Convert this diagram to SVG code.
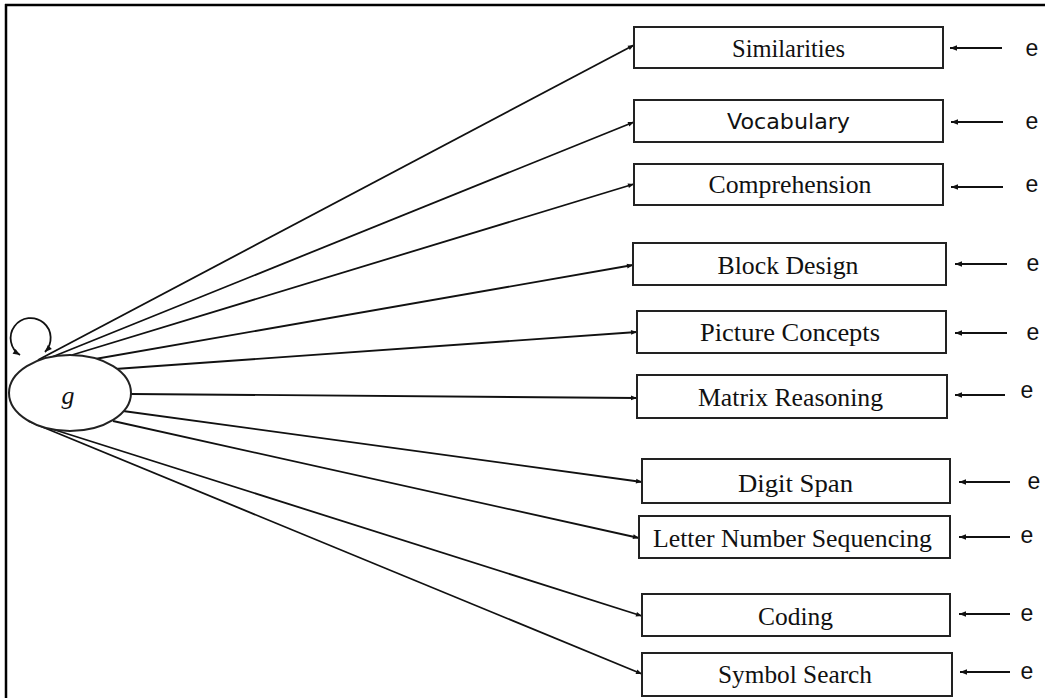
<svg xmlns="http://www.w3.org/2000/svg" width="1045" height="698" viewBox="0 0 1045 698">
<style>
.box{fill:#fff;stroke:#222;stroke-width:2}
.lbl{font-family:"Liberation Serif","Times New Roman",serif;font-size:25px;fill:#111;text-anchor:middle}
.sans{font-family:"DejaVu Sans","Liberation Sans",sans-serif;font-size:21px;fill:#111;text-anchor:middle}
.e{font-family:"Liberation Sans",Arial,sans-serif;font-size:23px;fill:#111;text-anchor:middle}
.conn line,.conn path{stroke:#111;stroke-width:1.8;fill:none}
</style>
<defs>
<marker id="ah" viewBox="0 0 10 10" refX="10" refY="5" markerWidth="8" markerHeight="6" markerUnits="userSpaceOnUse" orient="auto">
<path d="M0,1 L10,5 L0,9 Z" fill="#111"/>
</marker>
<marker id="ahs" viewBox="0 0 10 10" refX="10" refY="5" markerWidth="9" markerHeight="7" markerUnits="userSpaceOnUse" orient="auto">
<path d="M0,1 L10,5 L0,9 Z" fill="#111"/>
</marker>
<marker id="ahb" viewBox="0 0 10 10" refX="10" refY="5" markerWidth="9" markerHeight="7" markerUnits="userSpaceOnUse" orient="auto-start-reverse">
<path d="M0,1 L10,5 L0,9 Z" fill="#111"/>
</marker>
</defs>
<rect width="1045" height="698" fill="#fff"/>
<g id="frame">
<line x1="5" y1="5" x2="1045" y2="5" stroke="#000" stroke-width="2.5"/>
<line x1="6" y1="4" x2="6" y2="698" stroke="#000" stroke-width="2.5"/>
</g>
<g class="conn" id="connectors">
<path d="M 20 355 A 20 20 0 1 1 45 352" marker-start="url(#ahb)" marker-end="url(#ahb)"/>
<line x1="38" y1="360" x2="634" y2="45" marker-end="url(#ah)"/>
<line x1="52" y1="357" x2="634" y2="122" marker-end="url(#ah)"/>
<line x1="72" y1="355" x2="634" y2="184" marker-end="url(#ah)"/>
<line x1="95" y1="359" x2="633" y2="265" marker-end="url(#ah)"/>
<line x1="115" y1="369" x2="637" y2="332" marker-end="url(#ah)"/>
<line x1="131" y1="394" x2="637" y2="398" marker-end="url(#ah)"/>
<line x1="123" y1="411" x2="642" y2="482" marker-end="url(#ah)"/>
<line x1="113" y1="421" x2="639" y2="538" marker-end="url(#ah)"/>
<line x1="52" y1="429" x2="642" y2="616" marker-end="url(#ah)"/>
<line x1="28" y1="421" x2="642" y2="674" marker-end="url(#ah)"/>
<line x1="1002" y1="48" x2="950" y2="48" marker-end="url(#ahs)"/>
<line x1="1003" y1="122" x2="951" y2="122" marker-end="url(#ahs)"/>
<line x1="1003" y1="187" x2="951" y2="187" marker-end="url(#ahs)"/>
<line x1="1007" y1="264" x2="955" y2="264" marker-end="url(#ahs)"/>
<line x1="1007" y1="333" x2="955" y2="333" marker-end="url(#ahs)"/>
<line x1="1005" y1="395" x2="955" y2="395" marker-end="url(#ahs)"/>
<line x1="1010" y1="482" x2="959" y2="482" marker-end="url(#ahs)"/>
<line x1="1010" y1="537" x2="959" y2="537" marker-end="url(#ahs)"/>
<line x1="1010" y1="614" x2="959" y2="614" marker-end="url(#ahs)"/>
<line x1="1010" y1="672" x2="960" y2="672" marker-end="url(#ahs)"/>
</g>
<g id="g-node">
<ellipse cx="70" cy="393" rx="61" ry="38" fill="#fff" stroke="#222" stroke-width="2"/>
<text x="68" y="404" style="font-family:'Liberation Serif','Times New Roman',serif;font-size:26px;font-style:italic;fill:#111" text-anchor="middle">g</text>
</g>
<g id="similarities"><rect class="box" x="634" y="27" width="309" height="41"/><text class="lbl" x="788.5" y="57" textLength="113" lengthAdjust="spacingAndGlyphs">Similarities</text><text class="e" x="1032" y="56">e</text></g>
<g id="vocabulary"><rect class="box" x="634" y="100" width="309" height="42"/><text class="sans" x="788.5" y="129" textLength="123" lengthAdjust="spacingAndGlyphs">Vocabulary</text><text class="e" x="1032" y="129">e</text></g>
<g id="comprehension"><rect class="box" x="634" y="164" width="309" height="41"/><text class="lbl" x="790" y="193" textLength="163" lengthAdjust="spacingAndGlyphs">Comprehension</text><text class="e" x="1032" y="192">e</text></g>
<g id="block-design"><rect class="box" x="633" y="243" width="313" height="42"/><text class="lbl" x="788" y="274" textLength="141" lengthAdjust="spacingAndGlyphs">Block Design</text><text class="e" x="1033" y="271">e</text></g>
<g id="picture-concepts"><rect class="box" x="637" y="311" width="309" height="42"/><text class="lbl" x="790" y="341" textLength="180" lengthAdjust="spacingAndGlyphs">Picture Concepts</text><text class="e" x="1033" y="340">e</text></g>
<g id="matrix-reasoning"><rect class="box" x="637" y="375" width="310" height="43"/><text class="lbl" x="790.5" y="406" textLength="185" lengthAdjust="spacingAndGlyphs">Matrix Reasoning</text><text class="e" x="1027" y="398">e</text></g>
<g id="digit-span"><rect class="box" x="642" y="459" width="308" height="44"/><text class="lbl" x="795.5" y="492" textLength="115" lengthAdjust="spacingAndGlyphs">Digit Span</text><text class="e" x="1034" y="489">e</text></g>
<g id="letter-number-sequencing"><rect class="box" x="639" y="516" width="311" height="42"/><text class="lbl" x="792.5" y="547" textLength="279" lengthAdjust="spacingAndGlyphs">Letter Number Sequencing</text><text class="e" x="1027" y="543">e</text></g>
<g id="coding"><rect class="box" x="642" y="594" width="308" height="42"/><text class="lbl" x="795.5" y="625" textLength="75" lengthAdjust="spacingAndGlyphs">Coding</text><text class="e" x="1027" y="621">e</text></g>
<g id="symbol-search"><rect class="box" x="642" y="653" width="310" height="43"/><text class="lbl" x="795" y="683" textLength="154" lengthAdjust="spacingAndGlyphs">Symbol Search</text><text class="e" x="1027" y="679">e</text></g>
</svg>
